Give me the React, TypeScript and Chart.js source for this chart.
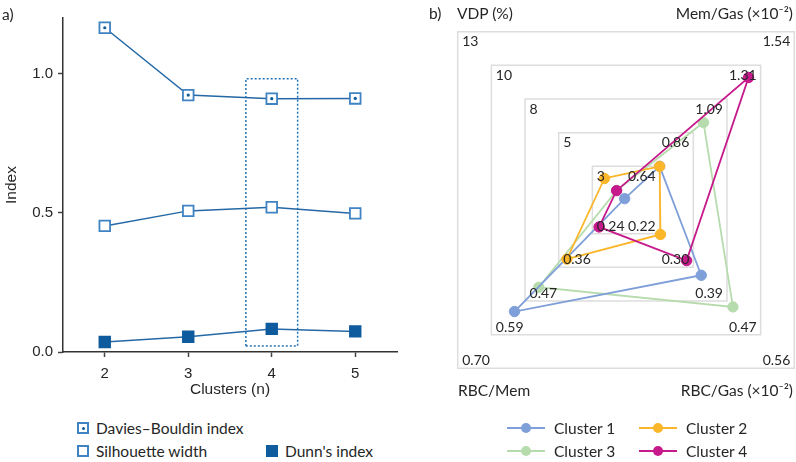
import React, { useEffect, useRef } from 'react';
import { Chart, registerables } from 'chart.js';
Chart.register(...registerables);

const FONT = 'Lato, "Noto Sans", sans-serif';
const TEXT = '#262626';
const LINE = '#2468a6';
const MARK = '#3f83c2';
const DARK = '#0e5b9d';
const BOX = '#2273b8';

// ---------- Panel a data ----------
const clusterCounts = [2, 3, 4, 5];
const daviesBouldin = [1.165, 0.923, 0.91, 0.911];
const silhouetteWidth = [0.453, 0.507, 0.52, 0.498];
const dunnIndex = [0.036, 0.055, 0.083, 0.074];
const indexTicks = [0, 0.5, 1.0];
const highlightBoxX = [3.69, 4.31];
const highlightBoxY = [0.022, 0.982];

// ---------- Panel b data ----------
const radarAxes = ['VDP (%)', 'Mem/Gas (×10⁻²)', 'RBC/Gas (×10⁻²)', 'RBC/Mem'];
const axisMin = [0.5, 0.415, 0.135, 0.125];
const axisMax = [13, 1.54, 0.56, 0.7];
const vdpTicks = ['3', '5', '8', '10', '13'];
const memGasTicks = ['0.64', '0.86', '1.09', '1.31', '1.54'];
const rbcGasTicks = ['0.22', '0.30', '0.39', '0.47', '0.56'];
const rbcMemTicks = ['0.24', '0.36', '0.47', '0.59', '0.70'];
const clusterNames = ['Cluster 1', 'Cluster 2', 'Cluster 3', 'Cluster 4'];
const cluster1 = [0.6, 0.64, 0.325, 0.506];
const cluster2 = [2.1, 0.64, 0.222, 0.327];
const cluster3 = [1.2, 0.933, 0.405, 0.423];
const cluster4 = [1.2, 1.234, 0.288, 0.217];
const clusterColors = ['#7f9fd9', '#fbb62a', '#b6dcae', '#c6198b'];
const clusterOrder = [2, 1, 3, 0];

const radarTickSets = [vdpTicks, memGasTicks, rbcGasTicks, rbcMemTicks];

const radarTickPlugin = {
  id: 'radarTicks',
  afterDatasetsDraw(chart: any) {
    const scale = chart.scales.r;
    const ctx = chart.ctx;
    ctx.save();
    ctx.font = `14px ${FONT}`;
    ctx.fillStyle = TEXT;
    ctx.textBaseline = 'alphabetic';
    radarTickSets.forEach((labels, i) => {
      labels.forEach((lab, k) => {
        const d = scale.getDistanceFromCenterForValue(k + 1);
        const p = scale.getPointPosition(i, d);
        const left = p.x < scale.xCenter;
        const top = p.y < scale.yCenter;
        ctx.textAlign = left ? 'left' : 'right';
        ctx.fillText(lab, p.x + (left ? 4.5 : -4), top ? p.y + 14.5 : p.y - 3);
      });
    });
    ctx.restore();
  },
};

function PanelA() {
  const ref = useRef<HTMLCanvasElement>(null);
  useEffect(() => {
    const pts = (ys: number[]) => clusterCounts.map((x, i) => ({ x, y: ys[i] }));
    const boxPts = [
      { x: highlightBoxX[0], y: highlightBoxY[0] },
      { x: highlightBoxX[0], y: highlightBoxY[1] },
      { x: highlightBoxX[1], y: highlightBoxY[1] },
      { x: highlightBoxX[1], y: highlightBoxY[0] },
      { x: highlightBoxX[0], y: highlightBoxY[0] },
    ];
    const chart = new Chart(ref.current as HTMLCanvasElement, {
      type: 'line',
      data: {
        datasets: [
          {
            label: 'Davies–Bouldin index centre',
            data: pts(daviesBouldin),
            showLine: false,
            pointStyle: 'circle',
            pointRadius: 1.6,
            pointBorderWidth: 0,
            pointBackgroundColor: DARK,
            order: 0,
          },
          {
            label: 'Davies–Bouldin index',
            data: pts(daviesBouldin),
            borderColor: LINE,
            borderWidth: 1.5,
            pointStyle: 'rect',
            pointRadius: 7.5,
            pointBorderWidth: 1.8,
            pointBorderColor: MARK,
            pointBackgroundColor: '#ffffff',
            order: 1,
          },
          {
            label: 'Silhouette width',
            data: pts(silhouetteWidth),
            borderColor: LINE,
            borderWidth: 1.5,
            pointStyle: 'rect',
            pointRadius: 7.5,
            pointBorderWidth: 1.8,
            pointBorderColor: MARK,
            pointBackgroundColor: '#ffffff',
            order: 2,
          },
          {
            label: "Dunn's index",
            data: pts(dunnIndex),
            borderColor: LINE,
            borderWidth: 1.5,
            pointStyle: 'rect',
            pointRadius: 7.5,
            pointBorderWidth: 1.8,
            pointBorderColor: DARK,
            pointBackgroundColor: DARK,
            order: 3,
          },
          {
            label: 'Selected',
            data: boxPts,
            borderColor: BOX,
            borderWidth: 1.5,
            borderDash: [2, 2],
            pointRadius: 0,
            order: 4,
          },
        ] as any,
      },
      options: {
        responsive: false,
        animation: false,
        layout: { padding: { top: 18, right: 23, left: 0, bottom: 0 } },
        plugins: { legend: { display: false }, tooltip: { enabled: false } },
        scales: {
          x: {
            type: 'linear',
            min: 1.5,
            max: 5.5,
            afterBuildTicks: (s: any) => {
              s.ticks = clusterCounts.map((v) => ({ value: v }));
            },
            afterFit: (s: any) => {
              s.height = 51;
            },
            grid: { drawOnChartArea: false, drawTicks: true, tickLength: 5, tickColor: '#444', tickWidth: 1.5 },
            border: { display: true, color: '#333', width: 1.5 },
            ticks: { padding: 8, color: TEXT, font: { size: 15 } },
            title: { display: true, text: 'Clusters (n)', color: TEXT, font: { size: 15.5 }, padding: { top: 4, bottom: 4 } },
          },
          y: {
            type: 'linear',
            min: 0,
            max: 1.2,
            afterBuildTicks: (s: any) => {
              s.ticks = indexTicks.map((v) => ({ value: v }));
            },
            afterFit: (s: any) => {
              s.width = 63;
            },
            grid: { drawOnChartArea: false, drawTicks: true, tickLength: 5, tickColor: '#444', tickWidth: 1.5 },
            border: { display: true, color: '#333', width: 1.5 },
            ticks: { padding: 5, color: TEXT, font: { size: 15 }, callback: (v: any) => Number(v).toFixed(1) },
            title: { display: true, text: 'Index', color: TEXT, font: { size: 15.5 }, padding: { top: 2, bottom: 4 } },
          },
        },
      } as any,
    });
    return () => chart.destroy();
  }, []);
  return <canvas ref={ref} width={420} height={403} style={{ position: 'absolute', left: 0, top: 0 }} />;
}

function PanelB() {
  const ref = useRef<HTMLCanvasElement>(null);
  useEffect(() => {
    const clusters = [cluster1, cluster2, cluster3, cluster4];
    const chart = new Chart(ref.current as HTMLCanvasElement, {
      type: 'radar',
      data: {
        labels: radarAxes,
        datasets: clusters.map((vals, i) => ({
          label: clusterNames[i],
          data: vals.map((v, j) => (5 * (v - axisMin[j])) / (axisMax[j] - axisMin[j])),
          borderColor: clusterColors[i],
          backgroundColor: clusterColors[i],
          pointBackgroundColor: clusterColors[i],
          pointBorderColor: clusterColors[i],
          pointRadius: 5.2,
          pointBorderWidth: 1,
          borderWidth: 1.8,
          fill: false,
          order: clusterOrder[i],
        })),
      },
      options: {
        responsive: false,
        animation: false,
        layout: { padding: 0 },
        plugins: { legend: { display: false }, tooltip: { enabled: false } },
        scales: {
          r: {
            min: 0,
            max: 5,
            startAngle: -45,
            ticks: { display: false, stepSize: 1 },
            grid: { circular: false, color: '#dddddd', lineWidth: 1.5 },
            angleLines: { display: false },
            pointLabels: { display: false },
          },
        },
      } as any,
      plugins: [radarTickPlugin],
    });
    return () => chart.destroy();
  }, []);
  return <canvas ref={ref} width={476} height={476} style={{ position: 'absolute', left: 388, top: -38 }} />;
}

const txt = (content: React.ReactNode, style: React.CSSProperties) => (
  <div style={{ position: 'absolute', fontSize: 15.5, lineHeight: '18px', color: TEXT, whiteSpace: 'nowrap', ...style }}>{content}</div>
);

function SquareMarker({ kind, left, cy }: { kind: 'db' | 'sil' | 'dunn'; left: number; cy: number }) {
  return (
    <div
      style={{
        position: 'absolute',
        left,
        top: cy - 6,
        width: 12,
        height: 12,
        boxSizing: 'border-box',
        border: `2px solid ${kind === 'dunn' ? DARK : MARK}`,
        background: kind === 'dunn' ? DARK : '#ffffff',
      }}
    >
      {kind === 'db' && (
        <div style={{ position: 'absolute', left: 3, top: 3, width: 3, height: 3, borderRadius: 2, background: DARK }} />
      )}
    </div>
  );
}

function LineMarker({ color, left, cy }: { color: string; left: number; cy: number }) {
  return (
    <div style={{ position: 'absolute', left, top: cy - 6, width: 38, height: 12 }}>
      <div style={{ position: 'absolute', left: 0, top: 5, width: 38, height: 2, background: color }} />
      <div style={{ position: 'absolute', left: 14, top: 1, width: 10, height: 10, borderRadius: 5, background: color }} />
    </div>
  );
}

export default function App() {
  const rowA = [427.5, 451];
  const legendX = [507, 639];
  return (
    <div
      style={{
        position: 'absolute',
        left: 0,
        top: 0,
        width: 796,
        height: 462,
        overflow: 'hidden',
        background: '#ffffff',
        fontFamily: FONT,
      }}
    >
      <PanelA />
      <PanelB />
      {txt('a)', { left: 2, top: 5 })}
      {txt('b)', { left: 429, top: 4 })}
      {txt(radarAxes[0], { left: 457, top: 4 })}
      {txt(radarAxes[1], { right: 3, top: 4 })}
      {txt(radarAxes[3], { left: 458, top: 381 })}
      {txt(radarAxes[2], { right: 3, top: 381 })}

      <SquareMarker kind="db" left={77} cy={rowA[0]} />
      {txt('Davies–Bouldin index', { left: 96, top: rowA[0] - 9 })}
      <SquareMarker kind="sil" left={77} cy={rowA[1]} />
      {txt('Silhouette width', { left: 96, top: rowA[1] - 9 })}
      <SquareMarker kind="dunn" left={266} cy={rowA[1]} />
      {txt("Dunn's index", { left: 285, top: rowA[1] - 9 })}

      {clusterNames.map((name, i) => {
        const col = i % 2;
        const row = Math.floor(i / 2);
        const cy = [427.7, 451][row];
        return (
          <React.Fragment key={name}>
            <LineMarker color={clusterColors[i]} left={legendX[col]} cy={cy} />
            {txt(name, { left: legendX[col] + 47, top: cy - 9 })}
          </React.Fragment>
        );
      })}
    </div>
  );
}
